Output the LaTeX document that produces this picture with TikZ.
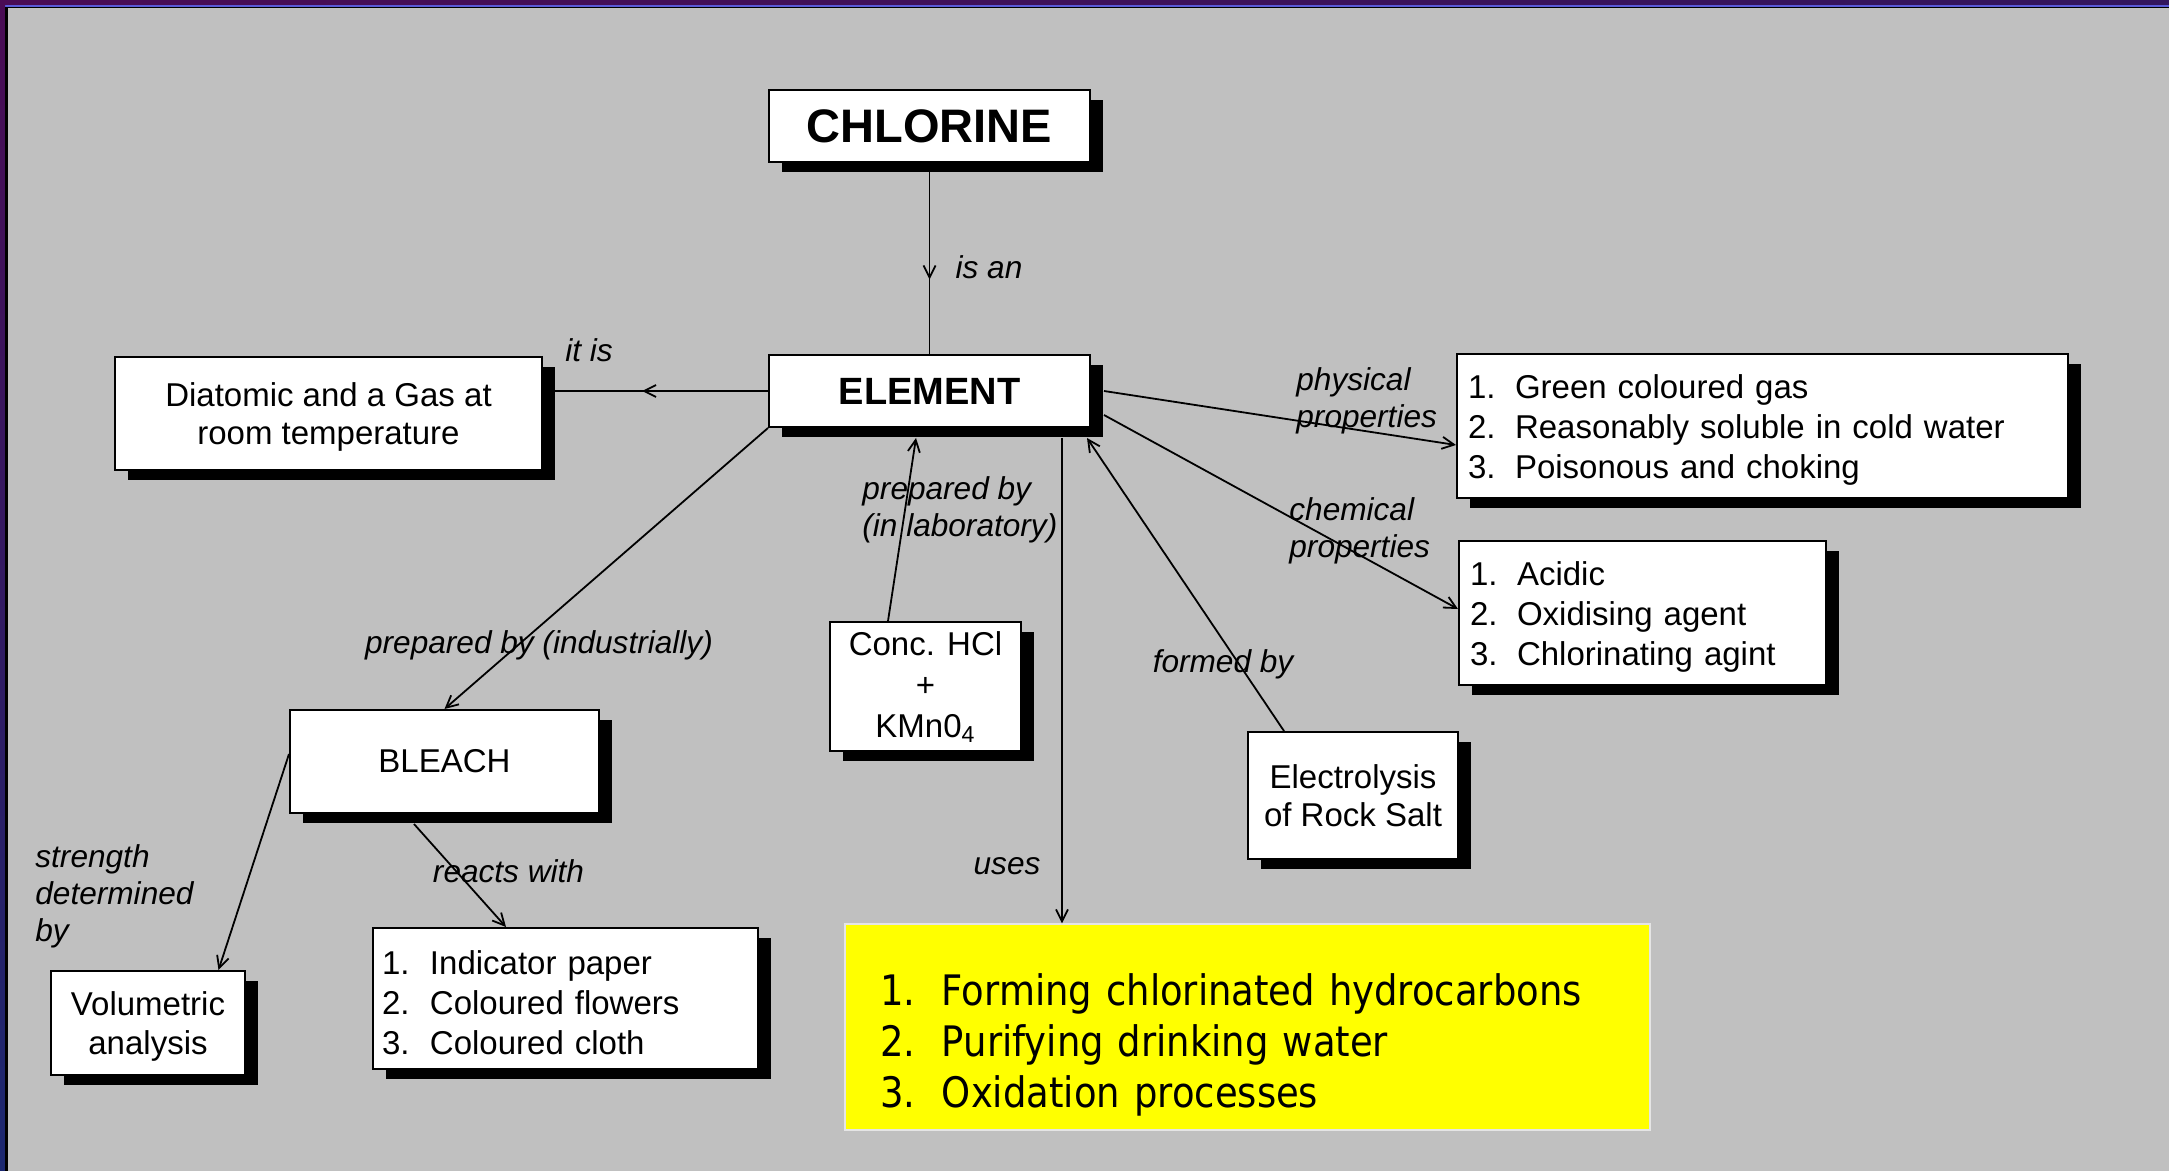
\documentclass[tikz,border=0pt]{standalone}
\usepackage{fontspec}
\setmainfont{Liberation Sans}
\newfontfamily\tahoma[FakeStretch=0.88]{DejaVu Sans}
\usetikzlibrary{shadows,arrows.meta,decorations.markings}
\definecolor{bg}{HTML}{C0C0C0}
\definecolor{purpA}{HTML}{4A0C55}
\definecolor{purpB}{HTML}{33165E}
\definecolor{navy}{HTML}{1C2870}
\definecolor{blueline}{HTML}{5A5AD8}
\definecolor{pureyellow}{RGB}{255,255,0}
\newcommand{\numitem}[3]{\makebox[#1][l]{#2}#3}
\tikzset{
  box/.style={draw=black, line width=1pt, fill=white, inner sep=0pt, align=center,
    font=\fontsize{16.5}{19}\selectfont,
    drop shadow={shadow xshift=6.5pt, shadow yshift=-5pt, fill=black, opacity=1}},
  listbox/.style={box, align=left, inner xsep=5.5pt, font=\fontsize{16.5}{20}\selectfont},
  lbl/.style={font=\fontsize{15.8}{18.5}\selectfont\itshape, inner sep=0pt, align=left},
  lbltwo/.style={lbl, yshift=-1.5pt},
  conn/.style={line width=0.9pt},
  arr/.style={-{Straight Barb[length=6pt,width=6pt]}},
  midarrow/.style={postaction={decorate}, decoration={markings,
    mark=at position #1 with {\arrow{Straight Barb[length=6pt,width=6pt]}}}}
}
\begin{document}
\begin{tikzpicture}[x=0.5pt,y=-0.5pt]
\useasboundingbox (0,0) rectangle (2169,1171);
% background and frame
\fill[bg] (0,0) rectangle (2169,1171);
\shade[left color=purpA, right color=purpB] (0,0) rectangle (2169,5);
\fill[blueline] (5,5) rectangle (2169,7);
\fill[black] (5,7) rectangle (2169,8.5);
\shade[top color=purpA, bottom color=navy] (0,0) rectangle (5,1171);
\fill[black] (5,7) rectangle (7.5,1171);

% nodes
\node[box, minimum width=160.5pt, minimum height=36pt, font=\fontsize{23.5}{26}\selectfont\bfseries] (chl) at (929.5,126) {CHLORINE};
\node[box, minimum width=160.5pt, minimum height=36pt, font=\fontsize{19}{22}\selectfont\bfseries] (elem) at (929.5,391) {ELEMENT};
\node[box, minimum width=213.5pt, minimum height=56.5pt, text depth=0pt, font=\fontsize{16.5}{19.3}\selectfont] (diat) at (328.5,413.5) {Diatomic and a Gas at\\room temperature};
\node[listbox, text width=294.5pt, minimum height=72pt] (phys) at (1762.5,426) {%
  \rule{0pt}{16pt}\numitem{23.5pt}{1.}{Green coloured gas}\\
  \numitem{23.5pt}{2.}{Reasonably soluble in cold water}\\
  \numitem{23.5pt}{3.}{Poisonous and choking}};
\node[listbox, text width=172.5pt, minimum height=72pt] (chem) at (1642.5,613) {%
  \rule{0pt}{16pt}\numitem{23.5pt}{1.}{Acidic}\\
  \numitem{23.5pt}{2.}{Oxidising agent}\\
  \numitem{23.5pt}{3.}{Chlorinating agint}};
\node[box, minimum width=95.5pt, minimum height=64.5pt, text depth=2pt, font=\fontsize{16.5}{20.5}\selectfont] (hcl) at (925.5,686.5) {Conc. HCl\\+\\KMn0\textsubscript{4}};
\node[box, minimum width=105pt, minimum height=63.5pt, text depth=0pt] (elec) at (1353,795.5) {Electrolysis\\of Rock Salt};
\node[box, minimum width=154.5pt, minimum height=51.5pt] (bleach) at (444.5,761.5) {BLEACH};
\node[box, minimum width=97pt, minimum height=52pt, text depth=0pt, font=\fontsize{16.5}{19.3}\selectfont] (vol) at (148,1023) {Volumetric\\analysis};
\node[listbox, inner xsep=4.5pt, text width=183.5pt, minimum height=70.5pt] (lst) at (565.5,998.5) {%
  \rule{0pt}{16pt}\numitem{24pt}{1.}{Indicator paper}\\
  \numitem{24pt}{2.}{Coloured flowers}\\
  \numitem{24pt}{3.}{Coloured cloth}};
\node[draw=white!90!black, line width=0.6pt, fill=pureyellow, inner ysep=0pt, inner xsep=17.5pt,
  text width=367.5pt, minimum height=103pt, align=left,
  font=\tahoma\fontsize{21}{25.5}\selectfont] (uses) at (1247.5,1027) {%
  \rule{0pt}{33.5pt}\numitem{31pt}{1.}{Forming chlorinated hydrocarbons}\\
  \numitem{31pt}{2.}{Purifying drinking water}\\
  \numitem{31pt}{3.}{Oxidation processes}};

% labels
\node[lbl] (lisan) at (989,267) {is an};
\node[lbl] (litis) at (589,350) {it is};
\node[lbltwo, anchor=west] (lphys) at (1296,397.5) {physical\\properties};
\node[lbltwo, anchor=west] (lchem) at (1289,528) {chemical\\properties};
\node[lbltwo, anchor=west] (llab) at (862,507) {prepared by\\(in laboratory)};
\node[lbl] (lformed) at (1223,664) {formed by};
\node[lbl] (luses) at (1007,866) {uses};
\node[lbl] (lind) at (539,645) {prepared by (industrially)};
\node[lbl] (lreact) at (508.5,871) {reacts with};
\node[lbltwo, anchor=west] (lstr) at (35,893.5) {strength\\determined\\by};

% connectors
\draw[conn, midarrow=0.61] (chl.south) -- (elem.north);
\draw[conn, midarrow=0.56] (elem.west) -- (elem.west -| diat.east);
\draw[conn, arr] ([xshift=6.5pt]elem.east) -- ([yshift=-9.5pt]phys.west);
\draw[conn, arr] ([xshift=6.5pt,yshift=-12pt]elem.east) -- ([yshift=2pt]chem.west);
\draw[conn, arr] (elem.south west) -- (bleach.north);
\draw[conn, arr] ([xshift=-18.75pt]hcl.north) -- ([xshift=-6.75pt,yshift=-5pt]elem.south);
\draw[conn, arr] ([xshift=-34.5pt]elec.north) -- ([xshift=-2pt,yshift=-5pt]elem.south east);
\draw[conn, arr] ([xshift=66.25pt,yshift=-5pt]elem.south) -- ([xshift=-92.75pt]uses.north);
\draw[conn, arr] ([yshift=3.75pt]bleach.west) -- ([xshift=35.25pt]vol.north);
\draw[conn, arr] ([xshift=-15.25pt,yshift=-5pt]bleach.south) -- ([xshift=-29.75pt]lst.north);
\end{tikzpicture}
\end{document}
